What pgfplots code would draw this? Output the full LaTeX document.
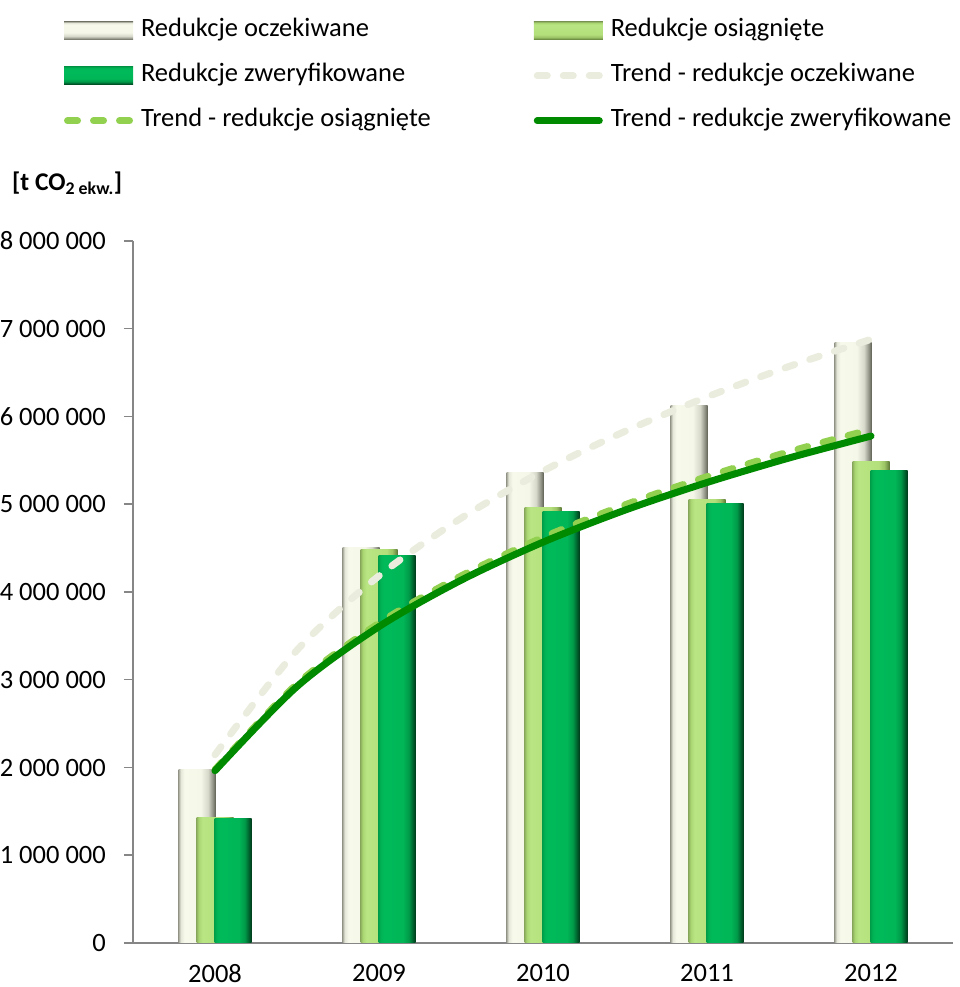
\documentclass[border=0pt]{standalone}
\usepackage{pgfplots}
\pgfplotsset{compat=1.18}
\usepackage{fontspec}
\setmainfont{Carlito}

\definecolor{axgray}{HTML}{868686}
\definecolor{trOcz}{HTML}{EAEDDD}
\definecolor{trOsi}{HTML}{92D050}
\definecolor{trZwe}{HTML}{008A00}

\pgfdeclarehorizontalshading{barW}{100bp}{%
 color(0bp)=(rgb,255:red,160;green,162;blue,148);
 color(25bp)=(rgb,255:red,160;green,162;blue,148);
 color(28bp)=(rgb,255:red,229;green,232;blue,216);
 color(33bp)=(rgb,255:red,247;green,250;blue,234);
 color(55bp)=(rgb,255:red,245;green,248;blue,232);
 color(65bp)=(rgb,255:red,214;green,216;blue,202);
 color(72bp)=(rgb,255:red,138;green,140;blue,128);
 color(75bp)=(rgb,255:red,96;green,98;blue,86);
 color(100bp)=(rgb,255:red,96;green,98;blue,86)}
\pgfdeclarehorizontalshading{barL}{100bp}{%
 color(0bp)=(rgb,255:red,140;green,174;blue,94);
 color(25bp)=(rgb,255:red,140;green,174;blue,94);
 color(28bp)=(rgb,255:red,170;green,214;blue,114);
 color(33bp)=(rgb,255:red,185;green,229;blue,130);
 color(60bp)=(rgb,255:red,180;green,224;blue,124);
 color(68bp)=(rgb,255:red,156;green,196;blue,102);
 color(73bp)=(rgb,255:red,111;green,143;blue,69);
 color(75bp)=(rgb,255:red,90;green,120;blue,56);
 color(100bp)=(rgb,255:red,90;green,120;blue,56)}
\pgfdeclarehorizontalshading{barD}{100bp}{%
 color(0bp)=(rgb,255:red,0;green,160;blue,74);
 color(25bp)=(rgb,255:red,0;green,160;blue,74);
 color(28bp)=(rgb,255:red,0;green,180;blue,85);
 color(33bp)=(rgb,255:red,0;green,186;blue,90);
 color(58bp)=(rgb,255:red,0;green,182;blue,87);
 color(66bp)=(rgb,255:red,0;green,154;blue,72);
 color(72bp)=(rgb,255:red,0;green,90;blue,42);
 color(75bp)=(rgb,255:red,0;green,58;blue,27);
 color(100bp)=(rgb,255:red,0;green,58;blue,27)}

\pgfplotsset{
 barlegend/.style={legend image code/.code={\path[##1, shading angle=-90] (0bp,-9bp) rectangle (69bp,9bp);}},
 linelegend/.style={legend image code/.code={\draw[##1] (3.5bp,0bp) -- (65.5bp,0bp);}},
 bW/.style={ybar, bar width=37bp, bar shift=-18bp, shading=barW, draw=none, forget plot},
 bL/.style={ybar, bar width=37bp, bar shift=0bp, shading=barL, draw=none, forget plot},
 bD/.style={ybar, bar width=37bp, bar shift=18bp, shading=barD, draw=none, forget plot},
}

\begin{document}
\begin{tikzpicture}
\path[use as bounding box] (0,0) rectangle (960bp,987bp);
\node[anchor=base west, inner sep=0pt, font=\fontsize{25.5bp}{30bp}\selectfont\bfseries] at (12bp,796bp) {[t CO\textsubscript{2 ekw.}]};
\begin{axis}[
 at={(133bp,44bp)}, anchor=south west,
 scale only axis, width=820bp, height=702bp,
 xmin=0.5, xmax=5.5, ymin=0, ymax=8000000,
 axis lines*=left,
 axis line style={draw=axgray, line width=1.5bp},
 x axis line style={shorten <=-9bp},
 xtick={1,2,3,4,5},
 xticklabels={2008,2009,2010,2011,2012},
 ytick={0,1000000,2000000,3000000,4000000,5000000,6000000,7000000,8000000},
 yticklabels={0,1 000 000,2 000 000,3 000 000,4 000 000,5 000 000,6 000 000,7 000 000,8 000 000},
 scaled y ticks=false,
 tick align=outside, major tick length=9bp,
 x tick style={draw=none},
 y tick style={draw=axgray, line width=1.5bp},
 tick label style={font=\fontsize{26.5bp}{31bp}\selectfont},
 xticklabel style={inner sep=0pt, yshift=-12bp},
 yticklabel style={inner sep=0pt, xshift=-18bp},
 clip=false,
 legend columns=2,
 legend cell align=left,
 legend style={at={(-0.0841,1.318)}, anchor=north west, draw=none, fill=none,
   inner sep=0pt, outer sep=0pt, row sep=19bp,
   font=\fontsize{26.5bp}{31bp}\selectfont,
   nodes={inner sep=0pt, text height=19bp, text depth=7bp},
   /tikz/every odd column/.append style={column sep=8bp},
   /tikz/every even column/.append style={column sep=103bp}},
]
% Redukcje oczekiwane
\addplot[bW] coordinates {(1,1980000)};
\addplot[bW] coordinates {(2,4510000)};
\addplot[bW] coordinates {(3,5360000)};
\addplot[bW] coordinates {(4,6120000)};
\addplot[bW] coordinates {(5,6840000)};
% Redukcje osiagniete
\addplot[bL] coordinates {(1,1430000)};
\addplot[bL] coordinates {(2,4480000)};
\addplot[bL] coordinates {(3,4960000)};
\addplot[bL] coordinates {(4,5050000)};
\addplot[bL] coordinates {(5,5490000)};
% Redukcje zweryfikowane
\addplot[bD] coordinates {(1,1420000)};
\addplot[bD] coordinates {(2,4420000)};
\addplot[bD] coordinates {(3,4920000)};
\addplot[bD] coordinates {(4,5010000)};
\addplot[bD] coordinates {(5,5390000)};

\addlegendimage{barlegend, shading=barW, draw=none}
\addlegendentry{Redukcje oczekiwane}
\addlegendimage{barlegend, shading=barL, draw=none}
\addlegendentry{Redukcje osiągnięte}
\addlegendimage{barlegend, shading=barD, draw=none}
\addlegendentry{Redukcje zweryfikowane}

\addplot[smooth, draw=trOcz, line width=7bp, dash pattern=on 10bp off 16bp, line cap=round, linelegend]
 coordinates {(1,2145000) (1.5,3337000) (2,4184000) (2.5,4840000) (3,5378000) (3.5,5831000) (4,6223000) (4.5,6570000) (5,6880000)};
\addlegendentry{Trend - redukcje oczekiwane}
\addplot[smooth, draw=trOsi, line width=7bp, dash pattern=on 10bp off 16bp, line cap=round, linelegend]
 coordinates {(1,1975000) (1.5,2951000) (2,3644000) (2.5,4182000) (3,4622000) (3.5,4993000) (4,5314000) (4.5,5598000) (5,5852000)};
\addlegendentry{Trend - redukcje osiągnięte}
\addplot[smooth, draw=trZwe, line width=7bp, line cap=round, linelegend]
 coordinates {(1,1963000) (1.5,2923000) (2,3606000) (2.5,4134000) (3,4568000) (3.5,4933000) (4,5248000) (4.5,5527000) (5,5777000)};
\addlegendentry{Trend - redukcje zweryfikowane}
\end{axis}
\end{tikzpicture}
\end{document}
